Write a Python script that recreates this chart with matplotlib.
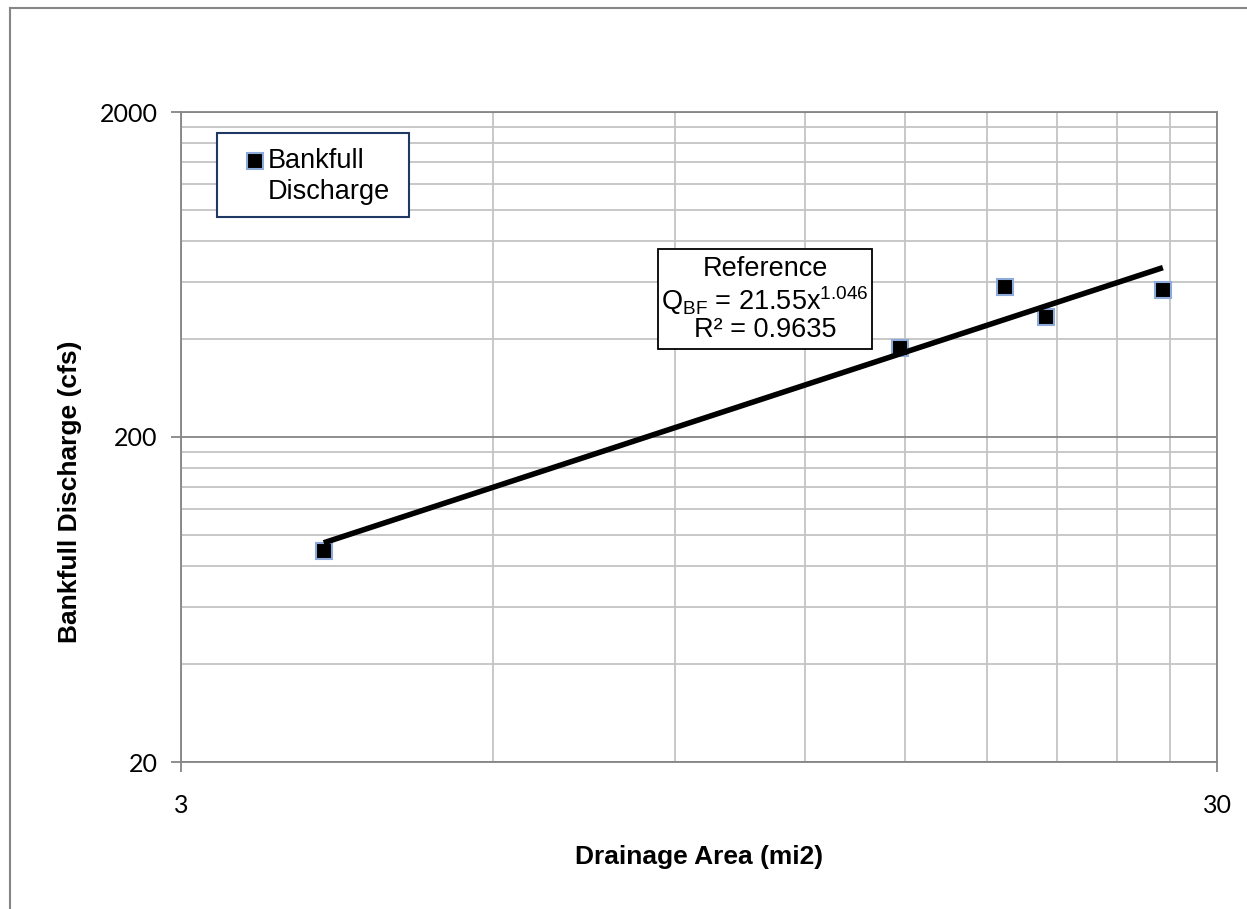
import matplotlib
matplotlib.use('Agg')
import matplotlib.pyplot as plt
from matplotlib.patches import Rectangle
from matplotlib.lines import Line2D
from matplotlib.ticker import FixedLocator, FixedFormatter, NullFormatter

plt.rcParams['font.family'] = ['Liberation Sans', 'DejaVu Sans']
plt.rcParams['mathtext.default'] = 'regular'

# drainage area (mi2) vs bankfull discharge (cfs)
area = [4.12, 14.83, 18.73, 20.5, 26.6]
discharge = [89.3, 375.6, 579, 468, 567]
# end points of the power trendline Q = 21.55 x^1.046
trend_area = [4.12, 26.6]
trend_q = [94.5, 664]

x_major = [3, 30]
y_major = [20, 200, 2000]
x_minor = [6, 9, 12, 15, 18, 21, 24, 27]
y_minor = [40, 60, 80, 100, 120, 140, 160, 180,
           400, 600, 800, 1000, 1200, 1400, 1600, 1800]

W, H = 1247, 909
def fx(px):
    return px / W
def fy(py):
    return 1 - py / H

gray = '#868686'
edge_blue = '#8eaadb'

fig = plt.figure(figsize=(W / 100, H / 100), dpi=100)
ax = fig.add_axes([fx(181), fy(762), (1217 - 181) / W, (762 - 112) / H])
ax.set_xscale('log')
ax.set_yscale('log')
ax.set_xlim(3, 30)
ax.set_ylim(20, 2000)

ax.xaxis.set_major_locator(FixedLocator(x_major))
ax.xaxis.set_major_formatter(FixedFormatter([str(v) for v in x_major]))
ax.xaxis.set_minor_locator(FixedLocator(x_minor))
ax.xaxis.set_minor_formatter(NullFormatter())
ax.yaxis.set_major_locator(FixedLocator(y_major))
ax.yaxis.set_major_formatter(FixedFormatter([str(v) for v in y_major]))
ax.yaxis.set_minor_locator(FixedLocator(y_minor))
ax.yaxis.set_minor_formatter(NullFormatter())

ax.set_axisbelow(True)
ax.grid(which='major', color=gray, lw=1.3)
ax.grid(which='minor', color='#c4c4c4', lw=1.3)
ax.tick_params(which='major', length=7, width=1.3, color=gray, labelsize=18,
               labelfontfamily='Lato')
ax.tick_params(axis='x', which='major', pad=16)
ax.tick_params(axis='y', which='major', pad=10)
ax.tick_params(which='minor', length=0)
for s in ax.spines.values():
    s.set_color(gray)
    s.set_linewidth(1.3)

# trendline sits over the markers like in excel
ax.plot(trend_area, trend_q, color='black', lw=4.0, solid_capstyle='butt', zorder=4)
ax.plot(area, discharge, ls='none', marker='s', ms=12, mfc='black',
        mec=edge_blue, mew=1.5, zorder=3)

fig.text(fx(699), fy(857), 'Drainage Area (mi2)', ha='center', va='center',
         fontsize=19, fontweight='bold')
fig.text(fx(70), fy(492), 'Bankfull Discharge (cfs)', rotation=90, ha='center',
         va='center', fontsize=19, fontweight='bold')

# legend box
fig.add_artist(Rectangle((fx(217), fy(217)), (409 - 217) / W, (217 - 133) / H,
                         transform=fig.transFigure, fc='white', ec='#1f3864',
                         lw=1.5, zorder=5))
fig.add_artist(Line2D([fx(255)], [fy(160.5)], marker='s', ms=11, mfc='black',
                      mec=edge_blue, mew=1.5, transform=fig.transFigure, zorder=6))
fig.text(fx(268), fy(161), 'Bankfull', va='center', fontsize=19.5, zorder=6)
fig.text(fx(268), fy(192), 'Discharge', va='center', fontsize=19.5, zorder=6)

# equation box
fig.add_artist(Rectangle((fx(658), fy(349)), (872 - 658) / W, (349 - 249) / H,
                         transform=fig.transFigure, fc='white', ec='black',
                         lw=1.3, zorder=5))
fig.text(fx(765), fy(269), 'Reference', ha='center', va='center', fontsize=19.5, zorder=6)
fig.text(fx(765), fy(301), 'Q$_{BF}$ = 21.55x$^{1.046}$', ha='center', va='center',
         fontsize=19.5, zorder=6)
fig.text(fx(765), fy(330), 'R² = 0.9635', ha='center', va='center', fontsize=19.5, zorder=6)

# chart area border (only left and top are inside the picture)
fig.add_artist(Line2D([fx(10), fx(10)], [0, fy(8)], color=gray, lw=1.5))
fig.add_artist(Line2D([fx(10), 1], [fy(8), fy(8)], color=gray, lw=1.5))

fig.savefig('out.png', dpi=100)
